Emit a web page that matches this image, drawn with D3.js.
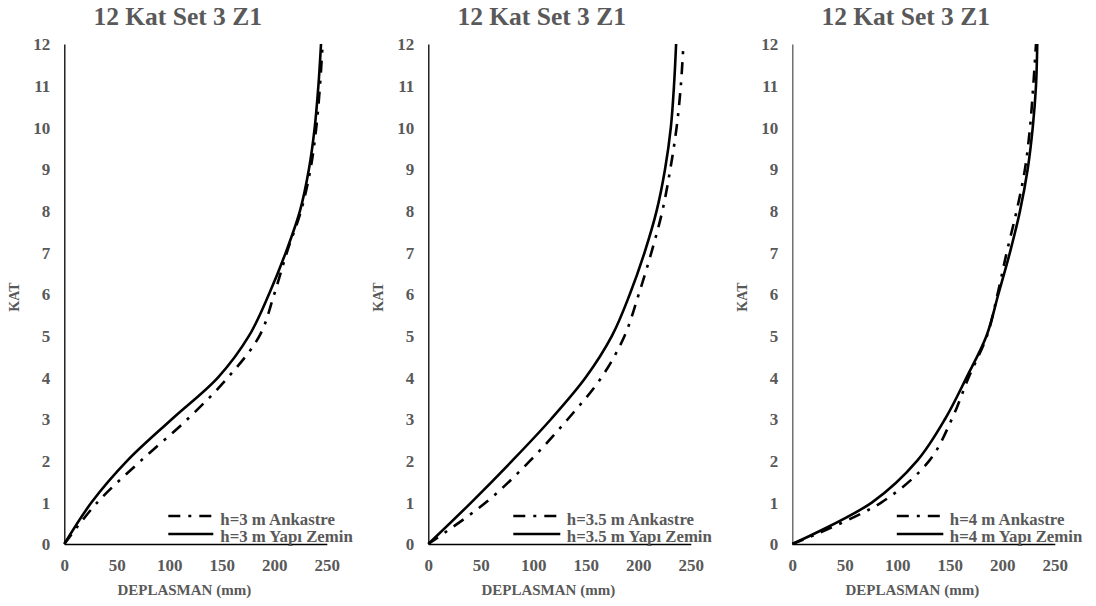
<!DOCTYPE html>
<html>
<head>
<meta charset="utf-8">
<script src="https://cdn.jsdelivr.net/npm/d3@7"></script>
<style>
  html, body { margin: 0; padding: 0; background: #ffffff; }
  svg { display: block; }
  text { font-family: "Liberation Serif", "Times New Roman", serif; font-weight: bold; fill: #595959; }
</style>
</head>
<body>
<svg id="chart" width="1096" height="606"></svg>
<script>
// ---------------- DATA ----------------
const chartTitle = "12 Kat Set 3 Z1";
const xAxisTitle = "DEPLASMAN (mm)";
const yAxisTitle = "KAT";
const floors = [0, 1, 2, 3, 4, 5, 6, 7, 8, 9, 10, 11, 12];
const xTicks = [0, 50, 100, 150, 200, 250];
const yTicks = [0, 1, 2, 3, 4, 5, 6, 7, 8, 9, 10, 11, 12];

// Panel 1 : h = 3 m
const h3Labels = ["h=3 m Ankastre", "h=3 m Yapı Zemin"];
const h3Ankastre = [0, 31.5, 73, 117.5, 156, 186, 200, 212, 225.5, 234.5, 240, 243.5, 246];
const h3YapiZemin = [0, 26, 60, 102.6, 146.5, 176, 195, 211, 224.5, 233, 238.5, 242, 244.5];

// Panel 2 : h = 3.5 m
const h35Labels = ["h=3.5 m Ankastre", "h=3.5 m Yapı Zemin"];
const h35Ankastre = [0, 55, 97, 133, 165, 187, 200.5, 212.5, 223, 230.5, 236.5, 240.5, 243];
const h35YapiZemin = [0, 41, 80, 117, 150, 175, 192, 206, 217.5, 225.5, 231, 234, 236];

// Panel 3 : h = 4 m
const h4Labels = ["h=4 m Ankastre", "h=4 m Yapı Zemin"];
const h4Ankastre = [0, 85, 130.5, 152, 168, 185.5, 195.5, 204.2, 213.7, 221.6, 226.4, 229.5, 232.1];
const h4YapiZemin = [0, 76, 119, 145.5, 166, 185, 196.3, 207.3, 216.9, 224.2, 229, 232.1, 233.3];

// ---------------- LAYOUT ----------------
const panels = [
  { axisX: 64.3,  ank: h3Ankastre,  yz: h3YapiZemin,  labels: h3Labels,  legLine: [104, 149], legText: 156, yAxisColor: "#000" },
  { axisX: 428.3, ank: h35Ankastre, yz: h35YapiZemin, labels: h35Labels, legLine: [85, 132],  legText: 138.5, yAxisColor: "#000" },
  { axisX: 792.3, ank: h4Ankastre,  yz: h4YapiZemin,  labels: h4Labels,  legLine: [104.5, 151], legText: 157.5, yAxisColor: "#595959" }
];
const plotTop = 44, plotBottom = 544, plotWidth = 262.5;

const svg = d3.select("#chart");

panels.forEach(p => {
  const x = d3.scaleLinear().domain([0, 250]).range([p.axisX, p.axisX + plotWidth]);
  const y = d3.scaleLinear().domain([0, 12]).range([plotBottom, plotTop]);
  const g = svg.append("g");

  // title
  g.append("text").attr("x", p.axisX + 113.4).attr("y", 24.5)
    .attr("text-anchor", "middle").style("font-size", "25.5px").text(chartTitle);

  // y axis
  const yAxis = d3.axisLeft(y).tickValues(yTicks).tickSize(0).tickPadding(14).tickFormat(d3.format("d"));
  const ya = g.append("g").attr("transform", `translate(${p.axisX},0)`).call(yAxis)
    .attr("font-family", null).attr("font-size", null);
  ya.select(".domain").attr("stroke", p.yAxisColor).attr("stroke-width", 1.3);
  ya.selectAll("text").style("font-size", "17px").attr("fill", "#595959").attr("dy", "0.35em");

  // x axis
  const xAxis = d3.axisBottom(x).tickValues(xTicks).tickSize(0).tickPadding(14).tickFormat(d3.format("d"));
  const xa = g.append("g").attr("transform", `translate(0,${plotBottom})`).call(xAxis)
    .attr("font-family", null).attr("font-size", null);
  xa.select(".domain").attr("stroke", "#000").attr("stroke-width", 1.3);
  xa.selectAll("text").style("font-size", "17px").attr("fill", "#595959")
    .attr("dy", "0.35em").attr("y", 21);

  // axis titles
  g.append("text").attr("x", p.axisX + 120).attr("y", 595)
    .attr("text-anchor", "middle").style("font-size", "15px").text(xAxisTitle);
  g.append("text").attr("transform", `translate(${p.axisX - 45},${(plotTop + plotBottom) / 2 + 3}) rotate(-90)`)
    .attr("text-anchor", "middle").style("font-size", "14px").text(yAxisTitle);

  // curves
  const line = d3.line()
    .x(d => x(d[0])).y(d => y(d[1]))
    .curve(d3.curveCatmullRom.alpha(0.5));
  const ankData = floors.map((k, i) => [p.ank[i], k]);
  const yzData = floors.map((k, i) => [p.yz[i], k]);

  g.append("path").datum(ankData).attr("d", line)
    .attr("fill", "none").attr("stroke", "#000").attr("stroke-width", 2.6)
    .attr("stroke-dasharray", "12,8,3,8");
  g.append("path").datum(yzData).attr("d", line)
    .attr("fill", "none").attr("stroke", "#000").attr("stroke-width", 2.6);

  // legend
  const lx0 = p.axisX + p.legLine[0], lx1 = p.axisX + p.legLine[1];
  g.append("line").attr("x1", lx0).attr("x2", lx1).attr("y1", 516).attr("y2", 516)
    .attr("stroke", "#000").attr("stroke-width", 2.6).attr("stroke-dasharray", "12,8,3,8");
  g.append("line").attr("x1", lx0).attr("x2", lx1).attr("y1", 534).attr("y2", 534)
    .attr("stroke", "#000").attr("stroke-width", 2.6);
  g.append("text").attr("x", p.axisX + p.legText).attr("y", 519).attr("dy", "0.35em")
    .style("font-size", "16.8px").text(p.labels[0]);
  g.append("text").attr("x", p.axisX + p.legText).attr("y", 536.5).attr("dy", "0.35em")
    .style("font-size", "16.8px").text(p.labels[1]);
});
</script>
</body>
</html>
